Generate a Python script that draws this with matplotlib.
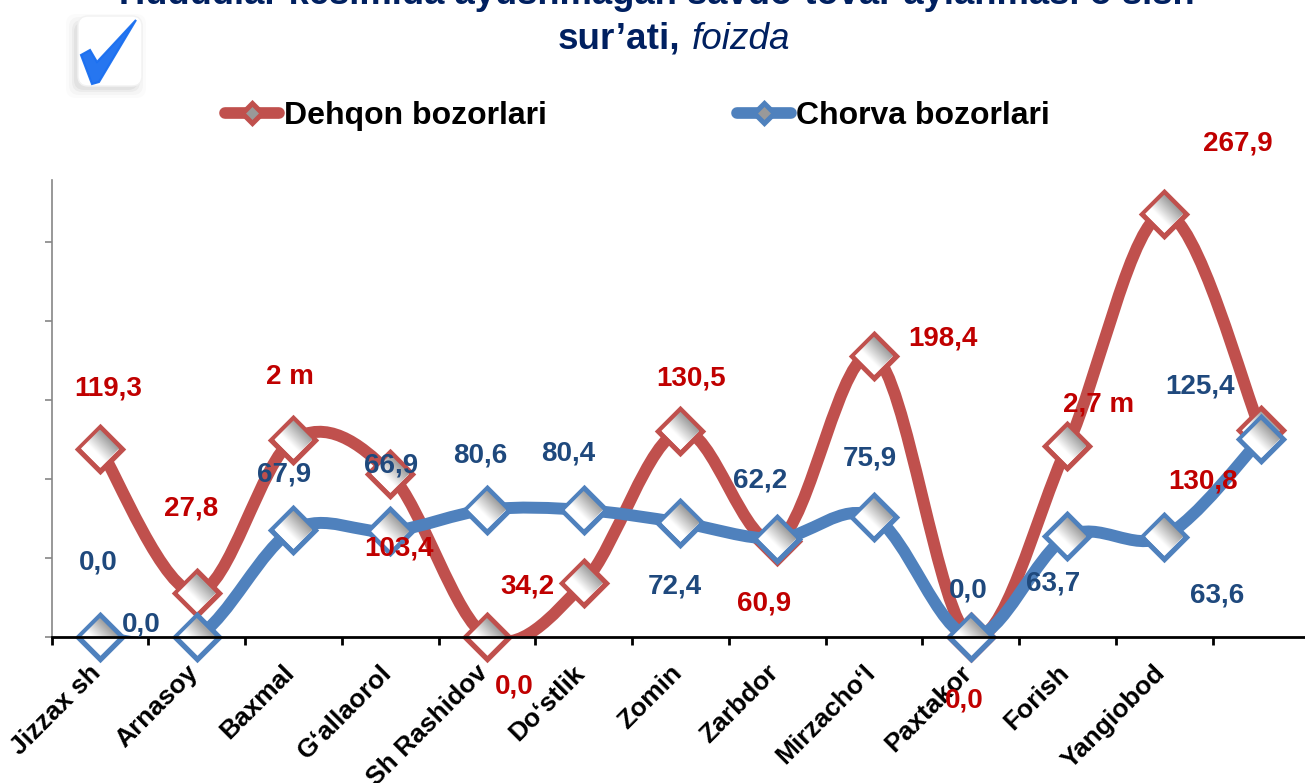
import matplotlib
matplotlib.use("Agg")
import matplotlib.pyplot as plt
import numpy as np
from matplotlib.lines import Line2D
from matplotlib.patches import FancyBboxPatch, Polygon, PathPatch
from matplotlib.path import Path
from matplotlib.transforms import ScaledTranslation

plt.rcParams['font.family'] = ['Liberation Sans', 'DejaVu Sans']

# data
categories = ["Jizzax sh", "Arnasoy", "Baxmal", "G‘allaorol", "Sh Rashidov", "Do‘stlik",
              "Zomin", "Zarbdor", "Mirzacho‘l", "Paxtakor", "Forish", "Yangiobod"]
dehqon = [119.3, 27.8, 125, 103.4, 0.0, 34.2, 130.5, 60.9, 178, 0.0, 121, 267.9, 130.8]
chorva = [0.0, 0.0, 67.9, 66.9, 80.6, 80.4, 72.4, 62.2, 75.9, 0.0, 63.7, 63.6, 125.4]
dehqon_labels = ["119,3", "27,8", "2 m", "103,4", "0,0", "34,2", "130,5", "60,9", "198,4", "0,0", "2,7 m", "267,9", "130,8"]
chorva_labels = ["0,0", "0,0", "67,9", "66,9", "80,6", "80,4", "72,4", "62,2", "75,9", "0,0", "63,7", "63,6", "125,4"]

# label offsets from their point, in pixels
dehqon_off = [(8, 60), (-6, 85), (-4, 62), (9, -75), (27, -49), (-56, -4), (11, 52),
              (-13, -63), (69, 17), (-6, -64), (31, 41), (74, 70), (-58, -51)]
chorva_off = [(-2, 74), (-55, 13), (-9, 55), (1, 66), (-7, 54), (-16, 56), (-6, -64),
              (-17, 58), (-4, 59), (-2, 46), (-14, -47), (53, -59), (-61, 52)]

RED = "#C0504D"
BLUE = "#4F81BD"
W, H = 1305, 783
PX_X = 96.75
PX_Y = 1.58


def smooth_path(ys):
    # smoothed line like the office charts, bezier through every point
    xs = np.arange(len(ys), dtype=float)
    ys = np.array(ys, dtype=float)
    verts = [(xs[0], ys[0])]
    codes = [Path.MOVETO]
    for i in range(len(ys) - 1):
        a = max(i - 1, 0)
        b = min(i + 2, len(ys) - 1)
        verts.append((xs[i] + (xs[i + 1] - xs[a]) / 6, ys[i] + (ys[i + 1] - ys[a]) / 6))
        verts.append((xs[i + 1] - (xs[b] - xs[i]) / 6, ys[i + 1] - (ys[b] - ys[i]) / 6))
        verts.append((xs[i + 1], ys[i + 1]))
        codes += [Path.CURVE4, Path.CURVE4, Path.CURVE4]
    return Path(verts, codes)


def draw_series(ax, ys, color, z):
    ax.add_patch(PathPatch(smooth_path(ys), fill=False, edgecolor=color, lw=8.6, zorder=z, capstyle='round'))
    xs = np.arange(len(ys))
    ax.plot(xs, ys, ls='none', marker='D', ms=22.5, mfc='white', mec=color, mew=3.8,
            clip_on=False, zorder=z + 0.1)
    # grey shine inside each marker
    grad = np.linspace(0, 1, 40)
    gx, gy = np.meshgrid(grad, grad)
    shade = np.clip((gx + (1 - gy)) - 0.8, 0, 1) * 0.9
    hx = 19 / PX_X
    hy = 19 / PX_Y
    for x, y in zip(xs, ys):
        im = ax.imshow(shade, cmap='gray_r', vmin=0, vmax=1.7, aspect='auto', origin='upper',
                       extent=(x - hx, x + hx, y - hy, y + hy), zorder=z + 0.2, interpolation='bilinear')
        im.set_clip_path(Polygon([(x - hx, y), (x, y + hy), (x + hx, y), (x, y - hy)],
                                 transform=ax.transData))


fig = plt.figure(figsize=(W / 100, H / 100), dpi=100, facecolor='white')
left = 51.6
bottom = 637
top = 180
ax = fig.add_axes([left / W, 1 - bottom / H, (W - left) / W, (bottom - top) / H])

draw_series(ax, dehqon, RED, 2)
draw_series(ax, chorva, BLUE, 4)

ax.set_xlim(-0.5, -0.5 + (W - left) / PX_X)
ax.set_ylim(0, (bottom - top) / PX_Y)

for i, txt in enumerate(dehqon_labels):
    ax.annotate(txt, (i, dehqon[i]), xytext=dehqon_off[i], textcoords='offset pixels', ha='center',
                va='center', fontsize=20, fontweight='bold', color="#C00000", zorder=8, annotation_clip=False)
for i, txt in enumerate(chorva_labels):
    ax.annotate(txt, (i, chorva[i]), xytext=chorva_off[i], textcoords='offset pixels', ha='center',
                va='center', fontsize=20, fontweight='bold', color="#1F497D", zorder=8, annotation_clip=False)

ax.spines['top'].set_visible(False)
ax.spines['right'].set_visible(False)
ax.spines['left'].set_color('#868686')
ax.spines['left'].set_linewidth(1.2)
ax.spines['bottom'].set_color('black')
ax.spines['bottom'].set_linewidth(2)
ax.spines['bottom'].set_zorder(6)

ax.set_yticks(np.arange(0, 251, 50))
ax.set_yticklabels([])
ax.tick_params(axis='y', length=5, width=1.2, color='#868686')
ax.set_xticks(np.arange(12))
ax.set_xticklabels(categories, rotation=45, ha='right', rotation_mode='anchor',
                   fontsize=19, fontweight='bold')
ax.set_xticks(np.arange(13) - 0.5, minor=True)
ax.tick_params(axis='x', which='major', length=0, pad=17)
ax.tick_params(axis='x', which='minor', length=6, width=2, color='black')
shift = ScaledTranslation(-11 / 100, 0, fig.dpi_scale_trans)
for lab in ax.get_xticklabels():
    lab.set_transform(lab.get_transform() + shift)

# title, cut by the top edge like the slide it comes from
title_col = "#002060"
fig.text(657 / W, 1 - 4 / H, "Hududlar kesimida ayushmagan savdo-tovar aylanmasi o‘sish", ha='center', va='baseline',
         fontsize=26.2, fontweight='bold', color=title_col)
fig.text(680 / W, 1 - 49 / H, "sur’ati,", ha='right', va='baseline',
         fontsize=26.6, fontweight='bold', color=title_col)
fig.text(692 / W, 1 - 49 / H, "foizda", ha='left', va='baseline',
         fontsize=26.6, fontstyle='italic', color=title_col)

# legend
handles = [
    Line2D([], [], color=RED, lw=8.4, solid_capstyle='round', marker='D', ms=10, mfc='#999999', mec=RED, mew=3.6),
    Line2D([], [], color=BLUE, lw=8.4, solid_capstyle='round', marker='D', ms=10, mfc='#999999', mec=BLUE, mew=3.6),
]
fig.legend(handles, ["Dehqon bozorlari", "Chorva bozorlari"], ncol=2, frameon=False,
           loc='center left', bbox_to_anchor=(196 / W, 1 - 116 / H),
           prop={'family': 'Liberation Sans', 'weight': 'bold', 'size': 23},
           handlelength=1.7, handletextpad=0.15, columnspacing=5.95)

# check mark icon in the corner
icon = fig.add_axes([0, 0, 1, 1], zorder=10)
icon.set_xlim(0, W)
icon.set_ylim(H, 0)
icon.axis('off')
icon.patch.set_alpha(0)
for grow, alpha in [(9, 0.015), (6, 0.025), (3, 0.035), (1, 0.04)]:
    icon.add_patch(FancyBboxPatch((75 - grow, 20 - grow + 3), 62 + 2 * grow, 66 + 2 * grow,
                                  boxstyle="round,pad=0,rounding_size=10", fc='black', ec='none', alpha=alpha))
icon.add_patch(FancyBboxPatch((78, 16), 64, 70, boxstyle="round,pad=0,rounding_size=10", fc='white',
                              ec='#f2f2f2', lw=1))
icon.add_patch(Polygon([(81, 55), (90, 50), (97, 62), (136, 20), (99, 82), (92, 84)], closed=True,
                       fc='#1A6FF0', ec='#1A6FF0', lw=1.5, alpha=0.95))

fig.savefig("out.png", dpi=100)
